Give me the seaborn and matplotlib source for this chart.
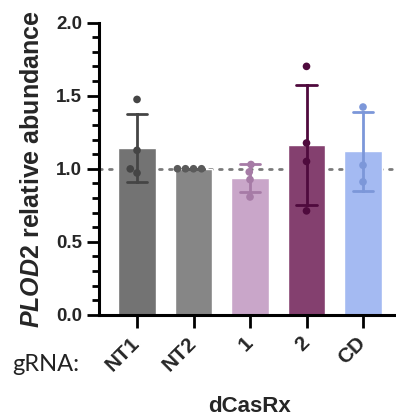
import numpy as np
import pandas as pd
import matplotlib
matplotlib.use("Agg")
import matplotlib.pyplot as plt
from matplotlib.ticker import MultipleLocator, FormatStrFormatter
import seaborn as sns

# ---- data ----
groups = ["NT1", "NT2", "1", "2", "CD"]
vals_NT1 = [1.474, 1.126, 0.971, 0.999]
vals_NT2 = [1.0, 1.0, 1.0, 1.0]
vals_g1 = [1.029, 0.978, 0.926, 0.807]
vals_g2 = [1.70, 1.176, 1.05, 0.712]
vals_CD = [1.422, 1.024, 0.91]
bar_colors = ["#737373", "#868686", "#C9A6C9", "#84406F", "#A4BAF2"]
dot_colors = ["#454545", "#5A5A5A", "#A67BA6", "#4F0A3D", "#7C97D9"]
ref_value = 1.0
y_ticks = [0.0, 0.5, 1.0, 1.5, 2.0]

df = pd.DataFrame({
    "group": sum([[g] * len(v) for g, v in zip(groups, [vals_NT1, vals_NT2, vals_g1, vals_g2, vals_CD])], []),
    "value": vals_NT1 + vals_NT2 + vals_g1 + vals_g2 + vals_CD,
})

sns.set_style("ticks")
plt.rcParams["font.family"] = ["Liberation Sans", "DejaVu Sans"]
plt.rcParams["mathtext.fontset"] = "custom"
plt.rcParams["mathtext.it"] = "Liberation Sans:italic:bold"
plt.rcParams["mathtext.rm"] = "Liberation Sans:bold"
plt.rcParams["mathtext.bf"] = "Liberation Sans:bold"

fig = plt.figure(figsize=(3.96, 4.16), dpi=100)
ax = fig.add_axes([0.25, 0.2428, 0.75, 0.7031])

ax.axhline(ref_value, color="#7A7A7A", linewidth=2.0, linestyle=(0, (1, 2.6)),
           dash_capstyle="round", zorder=0)

sns.barplot(data=df, x="group", y="value", hue="group", order=groups, hue_order=groups,
            palette=bar_colors, errorbar=None, width=0.67, saturation=1,
            legend=False, ax=ax, zorder=1)

sns.pointplot(data=df, x="group", y="value", hue="group", order=groups, hue_order=groups,
              palette=dot_colors, errorbar="sd", capsize=0.37, linestyle="none",
              markersize=0, err_kws={"linewidth": 2.0}, legend=False, ax=ax)

sns.swarmplot(data=df, x="group", y="value", hue="group", order=groups, hue_order=groups,
              palette=dot_colors, size=5.5, legend=False, ax=ax, zorder=5)

ax.set_xlim(-0.673, 4.584)
ax.set_ylim(0, 2.0)
ax.set_yticks(y_ticks)
ax.yaxis.set_major_formatter(FormatStrFormatter("%.1f"))
ax.yaxis.set_minor_locator(MultipleLocator(0.1))

for s in ["top", "right"]:
    ax.spines[s].set_visible(False)
for s in ["left", "bottom"]:
    ax.spines[s].set_linewidth(2.2)
    ax.spines[s].set_color("black")

ax.tick_params(axis="y", which="major", length=9, width=2.0, color="black", pad=3,
               labelsize=13.5)
ax.tick_params(axis="y", which="minor", length=5, width=2.0, color="black")
ax.tick_params(axis="x", which="major", length=9, width=2.0, color="black", pad=9,
               labelsize=15)
for lab in ax.get_yticklabels():
    lab.set_fontweight("bold")
ax.set_xticks(range(len(groups)))
ax.set_xticklabels(groups, rotation=45, ha="right", va="center",
                   rotation_mode="anchor", fontweight="bold")

ax.set_ylabel(r"$\mathit{PLOD2}$ relative abundance", fontsize=18, fontweight="bold")
ax.yaxis.set_label_coords(-0.225, 0.5)
ax.yaxis.label.set_va("center")

ax.set_xlabel("dCasRx", fontsize=16, fontweight="bold")
ax.xaxis.set_label_coords(0.508, -0.332)
ax.xaxis.label.set_va("baseline")

fig.text(0.03, 0.108, "gRNA:", fontsize=17, family=["Lato", "DejaVu Sans"],
         va="baseline", ha="left", color="#222222")

fig.savefig("out.png", dpi=100)
